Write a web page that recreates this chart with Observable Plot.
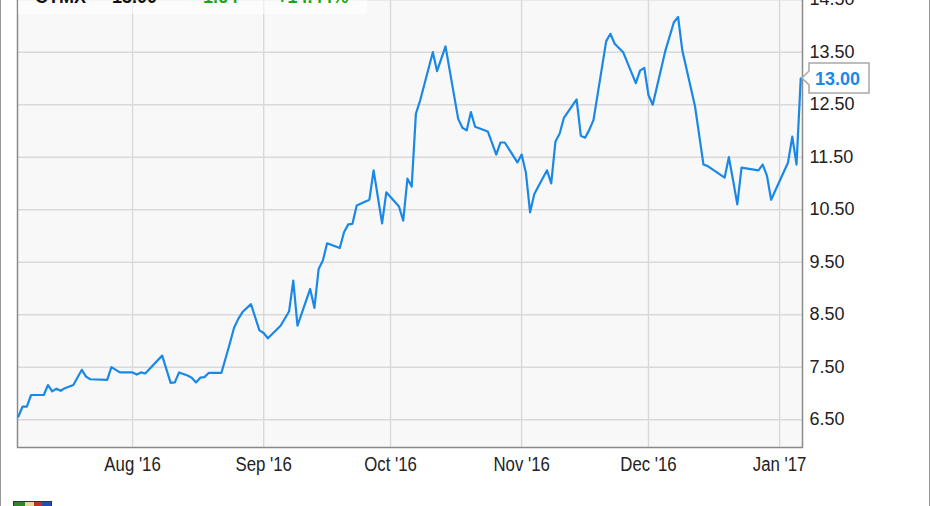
<!DOCTYPE html>
<html><head><meta charset="utf-8">
<script src="https://cdn.jsdelivr.net/npm/d3@7"></script>
<script src="https://cdn.jsdelivr.net/npm/@observablehq/plot@0.6"></script>
<style>
html,body{margin:0;padding:0;width:931px;height:506px;overflow:hidden;background:#fff;}
#wrap{position:relative;width:931px;height:506px;overflow:hidden;}
#frame{position:absolute;left:0;top:-5px;width:930px;height:530px;border:1px solid #999;box-sizing:border-box;}
#chart{position:absolute;left:0;top:-20px;}
#logo{position:absolute;left:13px;top:501px;width:39px;height:10px;border:1px solid #333;box-sizing:border-box;
background:linear-gradient(to right,#2a8a2a 0 30%,#e8d9a0 30% 55%,#c0302a 55% 75%,#2050b0 75%);}
</style></head><body>
<div id="wrap"><div id="frame"></div><div id="chart"></div><div id="logo"></div></div>
<script>
const ticker = "CTMX";
const lastLabel = "13.00";
const change = "1.64";
const changePct = "+14.44%";

const dates = [
"2016-07-05","2016-07-06","2016-07-07","2016-07-08","2016-07-11","2016-07-12","2016-07-13","2016-07-14","2016-07-15","2016-07-16",
"2016-07-18","2016-07-20","2016-07-21","2016-07-22","2016-07-26","2016-07-27","2016-07-29","2016-08-01","2016-08-02","2016-08-03",
"2016-08-04","2016-08-08","2016-08-10","2016-08-11","2016-08-12","2016-08-14","2016-08-15","2016-08-16","2016-08-17","2016-08-18",
"2016-08-19","2016-08-22","2016-08-24","2016-08-25","2016-08-26","2016-08-27","2016-08-29","2016-08-31","2016-09-01","2016-09-02",
"2016-09-05","2016-09-07","2016-09-08","2016-09-09","2016-09-12","2016-09-13","2016-09-14","2016-09-15","2016-09-16","2016-09-19",
"2016-09-20","2016-09-21","2016-09-22","2016-09-23","2016-09-26","2016-09-27","2016-09-29","2016-09-30","2016-10-03","2016-10-04",
"2016-10-05","2016-10-06","2016-10-07","2016-10-08","2016-10-11","2016-10-12","2016-10-14","2016-10-17","2016-10-18","2016-10-19",
"2016-10-20","2016-10-21","2016-10-24","2016-10-26","2016-10-27","2016-10-28","2016-10-31","2016-11-01","2016-11-02","2016-11-03",
"2016-11-04","2016-11-07","2016-11-08","2016-11-09","2016-11-10","2016-11-11","2016-11-14","2016-11-15","2016-11-16","2016-11-17",
"2016-11-18","2016-11-21","2016-11-22","2016-11-23","2016-11-25","2016-11-28","2016-11-29","2016-11-30","2016-12-01","2016-12-02",
"2016-12-05","2016-12-07","2016-12-08","2016-12-09","2016-12-12","2016-12-14","2016-12-15","2016-12-19","2016-12-20","2016-12-21",
"2016-12-22","2016-12-23","2016-12-27","2016-12-28","2016-12-29","2016-12-30","2017-01-03","2017-01-04","2017-01-05","2017-01-06"];
const prices = [
6.56,6.75,6.75,6.97,6.97,7.16,7.04,7.09,7.05,7.10,
7.16,7.45,7.32,7.27,7.26,7.50,7.40,7.40,7.36,7.40,
7.38,7.72,7.20,7.21,7.40,7.34,7.30,7.21,7.30,7.31,
7.39,7.39,7.95,8.25,8.42,8.55,8.70,8.20,8.15,8.05,
8.29,8.56,9.15,8.29,8.99,8.63,9.37,9.53,9.86,9.77,
10.07,10.22,10.23,10.58,10.69,11.25,10.24,10.83,10.56,10.29,
11.09,10.94,12.33,12.58,13.50,13.14,13.61,12.23,12.06,12.01,
12.36,12.08,11.99,11.55,11.78,11.78,11.40,11.55,11.21,10.45,
10.80,11.25,11.00,11.80,11.95,12.25,12.60,11.91,11.87,12.02,
12.21,13.71,13.85,13.66,13.50,12.91,13.15,13.20,12.68,12.50,
13.53,14.07,14.17,13.53,12.47,11.36,11.33,11.11,11.50,11.06,
10.60,11.30,11.25,11.36,11.15,10.69,11.40,11.89,11.36,13.00];

const xTickDates = ["2016-08-01","2016-09-01","2016-10-01","2016-11-01","2016-12-01","2017-01-01"];
const yTicks = [6.5,7.5,8.5,9.5,10.5,11.5,12.5,13.5,14.5];
const xDomain = ["2016-07-04T19:00Z","2017-01-06T10:00Z"];
const yDomain = [5.97,14.675];

const data = dates.map((d,i)=>({date:new Date(d), price:prices[i]}));
const monthTicks = xTickDates.map(d=>new Date(d));

const W=931, H=526, mL=17, mR=129, mT=10, mB=59;
const sans = "'Liberation Sans',Arial,sans-serif";
const chart = Plot.plot({
  width: W, height: H,
  marginLeft: mL, marginRight: mR, marginTop: mT, marginBottom: mB,
  style: {background: "transparent", fontFamily: sans, color: "#222"},
  x: {type: "utc", domain: xDomain.map(d=>new Date(d))},
  y: {domain: yDomain},
  marks: [
    Plot.frame({fill: "#f8f8f8", stroke: null}),
    Plot.gridX(monthTicks, {stroke: "#d9d9d9", strokeOpacity: 1, strokeWidth: 1.4}),
    Plot.gridY(yTicks, {stroke: "#d9d9d9", strokeOpacity: 1, strokeWidth: 1.4}),
    Plot.frame({stroke: "#8a8a8a", strokeWidth: 1.5}),
    Plot.axisY(yTicks, {anchor: "right", tickSize: 0, tickPadding: 7, fontSize: 18, tickFormat: d3.format(".2f"), fill: "#222", label: null}),
    Plot.axisX(monthTicks, {anchor: "bottom", tickSize: 0, tickPadding: 9, fontSize: 21, tickFormat: d3.utcFormat("%b '%y"), fill: "#222", label: null}),
    Plot.line(data, {x: "date", y: "price", stroke: "#1a88e6", strokeWidth: 2.2, strokeLinejoin: "round"})
  ]
});
document.getElementById("chart").appendChild(chart);

const svg = d3.select(chart);
// condense the month labels horizontally, like the reference
svg.selectAll("g[aria-label='x-axis tick label'] text").each(function() {
  const t = this.getAttribute("transform") || "";
  this.setAttribute("transform", t + " scale(0.8,1)");
});

const off = 20; // svg is shifted 20px up
// header overlay (mostly cut off at the top)
svg.append("rect").attr("x", mL+1).attr("y", 0).attr("width", 349).attr("height", 14+off).attr("fill", "#fff").attr("fill-opacity", 0.55);
const hdr = svg.append("g").attr("font-family", sans).attr("font-size",18).attr("font-weight","bold").attr("text-anchor","start");
hdr.append("text").attr("x",35).attr("y",3+off).attr("fill","#111").text(ticker);
hdr.append("text").attr("x",112).attr("y",3+off).attr("fill","#111").text(lastLabel);
hdr.append("text").attr("x",203).attr("y",3+off).attr("fill","#1aa61a").text(change);
hdr.append("text").attr("x",277).attr("y",3+off).attr("fill","#1aa61a").text(changePct);

// last value flag
const sy = chart.scale("y");
const last = data[data.length-1];
const py = sy.apply(last.price);
const tipX = W - mR, bx = tipX + 7, bw = 60, bh = 30;
svg.append("path")
  .attr("d", `M${tipX},${py} L${bx},${py-7} L${bx},${py-bh/2} L${bx+bw},${py-bh/2} L${bx+bw},${py+bh/2} L${bx},${py+bh/2} L${bx},${py+7} Z`)
  .attr("fill","#fff").attr("stroke","#a8a8a8").attr("stroke-width",1.5);
svg.append("text").attr("x", bx+6).attr("y", py+7).attr("text-anchor","start")
  .attr("font-family", sans).attr("font-size",18).attr("font-weight","bold")
  .attr("fill","#1a88e6").text(d3.format(".2f")(last.price));
</script>
</body></html>
